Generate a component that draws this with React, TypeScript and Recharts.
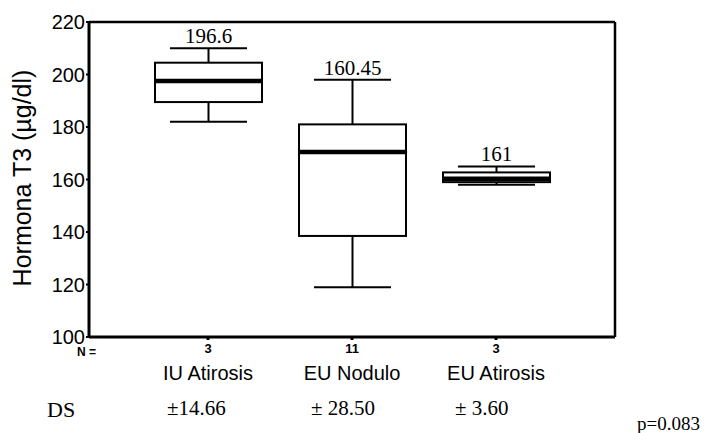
import React from "react";
import { ComposedChart, Bar, XAxis, YAxis, CartesianGrid } from "recharts";

const groups = ["IU Atirosis", "EU Nodulo", "EU Atirosis"];
const counts = [3, 11, 3];
const whiskerLow = [182, 119, 158];
const quartile1 = [189.5, 138.5, 159];
const medians = [197.5, 170.5, 160.3];
const quartile3 = [204.5, 181, 162.7];
const whiskerHigh = [210, 198, 165];
const meanLabels = ["196.6", "160.45", "161"];
const sdLabels = ["±14.66", "± 28.50", "± 3.60"];
const yTicks = [100, 120, 140, 160, 180, 200, 220];

const data = groups.map((name, i) => ({
  name,
  n: counts[i],
  range: [whiskerLow[i], whiskerHigh[i]],
  q1: quartile1[i],
  median: medians[i],
  q3: quartile3[i],
  mean: meanLabels[i],
  sd: sdLabels[i],
}));

const SANS = "Arial, 'Liberation Sans', sans-serif";
const SERIF = "'Times New Roman', 'Liberation Serif', serif";

// draws whiskers, box, median and the mean label from the bar's range
const BoxShape = (props: any) => {
  const { x, y, width, height, payload } = props;
  const [lo, hi] = payload.range;
  const top = Math.min(y, y + height);
  const bottom = Math.max(y, y + height);
  const toY = (v: number) => top + ((hi - v) / (hi - lo)) * (bottom - top);
  const cx = x + width / 2;
  const cap = width * 0.36;
  const yq1 = toY(payload.q1);
  const yq3 = toY(payload.q3);
  const ymed = toY(payload.median);
  return (
    <g stroke="#000" fill="none">
      <line x1={cx} x2={cx} y1={top} y2={yq3} strokeWidth={2} />
      <line x1={cx} x2={cx} y1={yq1} y2={bottom} strokeWidth={2} />
      <line x1={cx - cap} x2={cx + cap} y1={top} y2={top} strokeWidth={2} />
      <line x1={cx - cap} x2={cx + cap} y1={bottom} y2={bottom} strokeWidth={2} />
      <rect x={x} y={yq3} width={width} height={yq1 - yq3} fill="#fff" strokeWidth={2} />
      <line x1={x} x2={x + width} y1={ymed} y2={ymed} strokeWidth={4.5} />
      <text
        x={cx}
        y={top - 5}
        textAnchor="middle"
        stroke="none"
        fill="#000"
        fontFamily={SERIF}
        fontSize={21}
      >
        {payload.mean}
      </text>
    </g>
  );
};

const GroupTick = (props: any) => {
  const { x, y, index } = props;
  const row = data[index];
  return (
    <g>
      <text x={x} y={y + 13} textAnchor="middle" fontFamily={SANS} fontSize={13} fontWeight="bold" fill="#000">
        {row.n}
      </text>
      <text x={x} y={y + 40} textAnchor="middle" fontFamily={SANS} fontSize={20} fill="#000">
        {row.name}
      </text>
      <text x={x - 41} y={y + 75} textAnchor="start" fontFamily={SERIF} fontSize={21} fill="#000">
        {row.sd}
      </text>
    </g>
  );
};

const YLabel = () => (
  <text
    x={0}
    y={0}
    transform="translate(31, 178) rotate(-90)"
    textAnchor="middle"
    fontFamily={SANS}
    fontSize={25}
    fill="#000"
  >
    Hormona T3 (µg/dl)
  </text>
);

export default function App() {
  return (
    <div style={{ position: "absolute", left: 0, top: 0, width: 714, height: 433, background: "#fff" }}>
      <ComposedChart
        width={714}
        height={433}
        data={data}
        margin={{ top: 22, right: 99, bottom: 0, left: 0 }}
      >
        <CartesianGrid
          stroke="#000"
          strokeWidth={2.5}
          horizontalCoordinatesGenerator={({ offset }: any) => [offset.top]}
          verticalCoordinatesGenerator={({ offset }: any) => [offset.left + offset.width]}
        />
        <XAxis
          dataKey="name"
          padding={{ left: 47, right: 47 }}
          axisLine={{ stroke: "#000", strokeWidth: 3 }}
          tickLine={{ stroke: "#000", strokeWidth: 3 }}
          tickSize={3}
          tickMargin={0}
          tick={<GroupTick />}
          interval={0}
          height={96}
        />
        <YAxis
          domain={[100, 220]}
          ticks={yTicks}
          width={89}
          allowDataOverflow
          axisLine={{ stroke: "#000", strokeWidth: 3 }}
          tickLine={{ stroke: "#000", strokeWidth: 2 }}
          tickSize={3}
          tickMargin={1}
          tick={{ fill: "#000", fontFamily: SANS, fontSize: 20 }}
          label={<YLabel />}
        />
        <Bar dataKey="range" barSize={107} shape={<BoxShape />} isAnimationActive={false} />
      </ComposedChart>
      <svg
        width={714}
        height={433}
        style={{ position: "absolute", left: 0, top: 0, pointerEvents: "none" }}
      >
        <text x={77} y={356} fontFamily={SANS} fontSize={12} fontWeight="bold" fill="#000">
          N =
        </text>
        <text x={47} y={417} fontFamily={SERIF} fontSize={22} fill="#000">
          DS
        </text>
        <text x={637} y={430} fontFamily={SERIF} fontSize={19} fill="#000">
          p=0.083
        </text>
      </svg>
    </div>
  );
}
